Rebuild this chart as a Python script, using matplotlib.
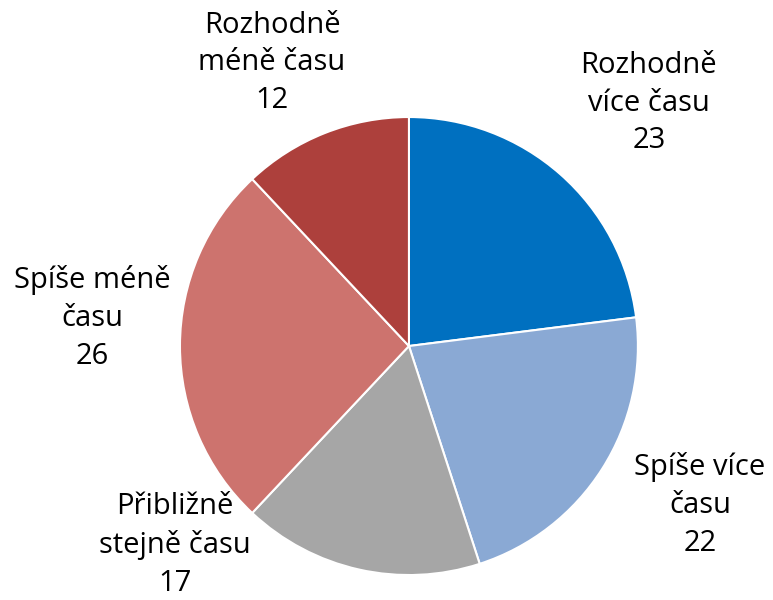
import matplotlib.pyplot as plt

labels = ["Rozhodně\nvíce času", "Spíše více\nčasu", "Přibližně\nstejně času", "Spíše méně\nčasu", "Rozhodně\nméně času"]
values = [23, 22, 17, 26, 12]
colors = ["#0070C0", "#8AA9D4", "#A6A6A6", "#CD736E", "#AD403C"]

# label centres, in pie radii from the centre
label_pos = [(1.048, 1.061), (1.271, -0.694), (-1.022, -0.869), (-1.384, 0.122), (-0.598, 1.236)]

plt.rcParams['font.family'] = ['Open Sans', 'DejaVu Sans']

fig = plt.figure(figsize=(7.73, 6), dpi=100)
ax = fig.add_axes([0, 0, 1, 1])
ax.pie(values, colors=colors, startangle=90, counterclock=False, radius=1,
       wedgeprops=dict(edgecolor="white", linewidth=1.5))
for lab, v, (x, y) in zip(labels, values, label_pos):
    ax.text(x, y, f"{lab}\n{v}", ha="center", va="center", fontsize=21,
            linespacing=1.4, color="black")
ax.set_aspect("auto")
ax.set_xlim(-1.786, 1.590)
ax.set_ylim(-1.109, 1.511)
ax.axis("off")
fig.savefig("out.png", dpi=100, facecolor="white")
